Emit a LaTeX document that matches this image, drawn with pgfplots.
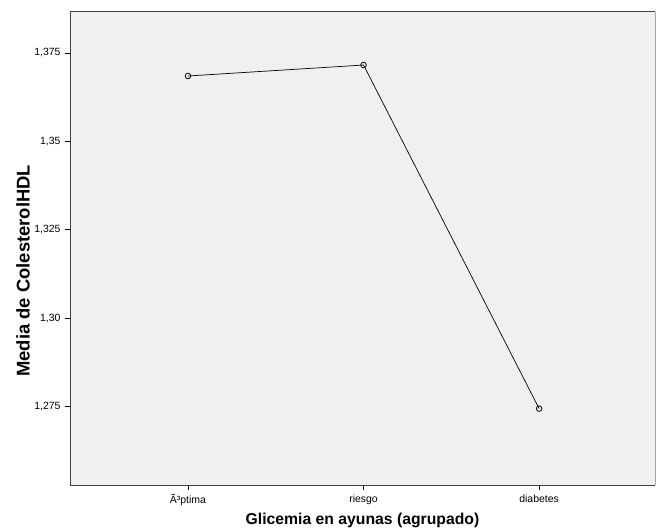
\documentclass[border=0pt]{standalone}
\usepackage{pgfplots}
\pgfplotsset{compat=1.18}
\usetikzlibrary{calc}
\usepackage{fontspec}
\setmainfont{Liberation Sans}
\definecolor{plotbg}{HTML}{F0F0F0}
\definecolor{frame}{HTML}{404040}

\begin{document}
\begin{tikzpicture}[x=1bp,y=1bp]
\begin{axis}[
    name=ax,
    scale only axis,
    width=585bp, height=473bp,
    xmin=-0.672, xmax=2.66,
    ymin=1.2528, ymax=1.3866,
    axis background/.style={fill=plotbg},
    axis x line*=bottom, axis y line*=left,
    axis line style={frame, line width=1pt},
    xtick={0,1,2},
    xticklabels={Ã³ptima, riesgo, diabetes},
    ytick={1.275,1.30,1.325,1.35,1.375},
    yticklabels={{1,275},{1,30},{1,325},{1,35},{1,375}},
    tick align=outside,
    major tick length=5bp,
    tick style={black, line width=0.8pt},
    ticklabel style={font=\fontsize{10.5}{11}\selectfont},
    xticklabel style={yshift=-1bp},
    yticklabel style={xshift=-1bp},
    xlabel={\bfseries Glicemia en ayunas (agrupado)},
    ylabel={\bfseries Media de ColesterolHDL},
    xlabel style={font=\fontsize{15.8}{16}\selectfont,
        at={(rel axis cs:0.5,0)}, anchor=center, yshift=-35bp},
    ylabel style={font=\fontsize{18.5}{19}\selectfont,
        at={(rel axis cs:0,0.453)}, anchor=center, yshift=47bp},
    clip=false,
]
\addplot[black, line width=0.7pt, mark=o, mark size=2.8pt,
    mark options={line width=0.8pt}] coordinates {
    (0, 1.3685)
    (1, 1.3716)
    (2, 1.2744)
};
\end{axis}
\draw[frame, line width=1pt] (ax.north west) -- (ax.north east);
\draw[gray!70, line width=1pt] (ax.north east) -- (ax.south east);
\useasboundingbox ($(ax.south west)+(-70bp,-44bp)$) rectangle ($(ax.north east)+(1bp,12bp)$);
\end{tikzpicture}
\end{document}
